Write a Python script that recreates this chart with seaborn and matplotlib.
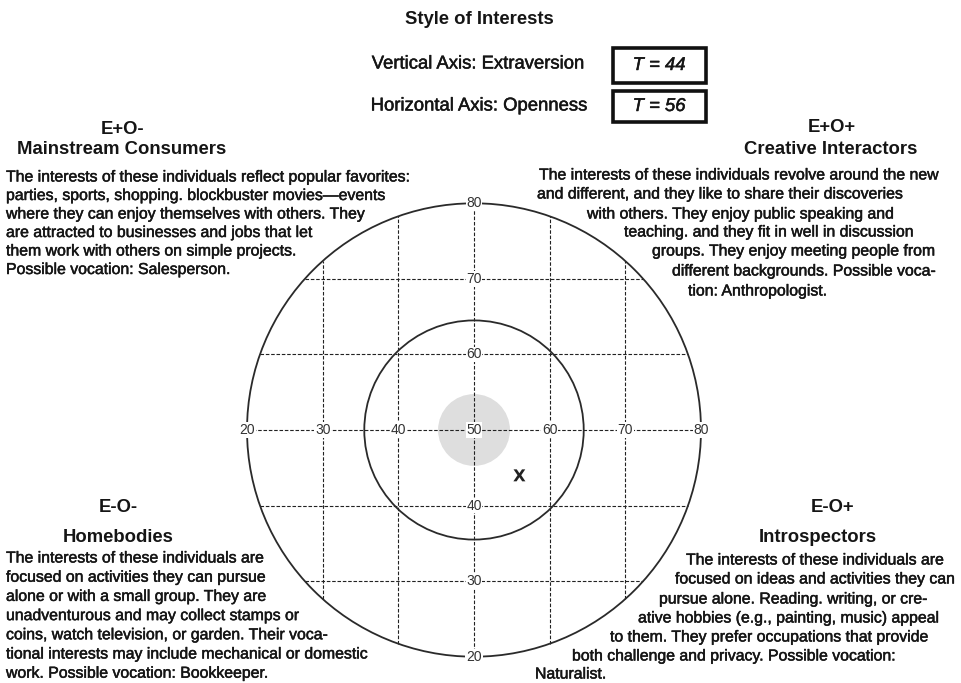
import numpy as np
import pandas as pd
import seaborn as sns
import matplotlib
matplotlib.use("Agg")
import matplotlib.pyplot as plt
import matplotlib.patheffects as pe
from matplotlib.patches import Circle, Rectangle

# ---------------- data ----------------
openness_T = [56]          # horizontal axis score
extraversion_T = [44]      # vertical axis score
axis_ticks = [20, 30, 40, 50, 60, 70, 80]
grid_values = [30, 40, 60, 70]
outer_radius = [30]
inner_radius = [14.5]
center_radius = [4.75]

title = "Style of Interests"
vert_label = "Vertical Axis: Extraversion"
horiz_label = "Horizontal Axis: Openness"
vert_box = "T = 44"
horiz_box = "T = 56"

q_codes = ["E+O-", "E+O+", "E-O-", "E-O+"]
q_names = ["Mainstream Consumers", "Creative Interactors", "Homebodies", "Introspectors"]
q_text_tl = [
    "The interests of these individuals reflect popular favorites:",
    "parties, sports, shopping. blockbuster movies\u2014events",
    "where they can enjoy themselves with others. They",
    "are attracted to businesses and jobs that let",
    "them work with others on simple projects.",
    "Possible vocation: Salesperson.",
]
q_text_tr = [
    "The interests of these individuals revolve around the new",
    "and different, and they like to share their discoveries",
    "with others. They enjoy public speaking and",
    "teaching. and they fit in well in discussion",
    "groups. They enjoy meeting people from",
    "different backgrounds. Possible voca-",
    "tion: Anthropologist.",
]
q_text_bl = [
    "The interests of these individuals are",
    "focused on activities they can pursue",
    "alone or with a small group. They are",
    "unadventurous and may collect stamps or",
    "coins, watch television, or garden. Their voca-",
    "tional interests may include mechanical or domestic",
    "work. Possible vocation: Bookkeeper.",
]
q_text_br = [
    "The interests of these individuals are",
    "focused on ideas and activities they can",
    "pursue alone. Reading. writing, or cre-",
    "ative hobbies (e.g., painting, music) appeal",
    "to them. They prefer occupations that provide",
    "both challenge and privacy. Possible vocation:",
    "Naturalist.",
]

# ---------------- style ----------------
sns.set_theme(style="white")
plt.rcParams["font.family"] = ["Liberation Sans", "DejaVu Sans"]

W, H = 961, 683
fig = plt.figure(figsize=(W / 100, H / 100), dpi=100)
fig.patch.set_facecolor("white")

def fx(x):
    return x / W

def fy(y):
    return 1 - y / H

TXT = "#151515"
BODY = 11.4
HEAD = 13.3
thick = [pe.withStroke(linewidth=0.35, foreground=TXT)]

# ---------------- chart axes ----------------
left_px, right_px = 247, 701
top_px, bot_px = 203.3, 656.7
ax = fig.add_axes([fx(left_px), fy(bot_px), (right_px - left_px) / W, (bot_px - top_px) / H])
ax.set_xlim(axis_ticks[0], axis_ticks[-1])
ax.set_ylim(axis_ticks[0], axis_ticks[-1])
ax.axis("off")

cx = cy = axis_ticks[3]
R = outer_radius[0]

ax.add_patch(Circle((cx, cy), center_radius[0], facecolor="#dedede", edgecolor="none", zorder=1))
ax.add_patch(Circle((cx, cy), R, facecolor="none", edgecolor="#2a2a2a", lw=1.3, zorder=3, clip_on=False))
ax.add_patch(Circle((cx, cy), inner_radius[0], facecolor="none", edgecolor="#2a2a2a", lw=1.3, zorder=3))

dash = (0, (3.2, 1.6))
for g in grid_values:
    h = np.sqrt(R ** 2 - (g - cy) ** 2)
    ax.plot([cx - h, cx + h], [g, g], color="#222222", lw=0.8, linestyle=dash, zorder=2, clip_on=False)
    ax.plot([g, g], [cy - h, cy + h], color="#222222", lw=0.8, linestyle=dash, zorder=2, clip_on=False)
ax.plot([axis_ticks[0], axis_ticks[-1]], [cy, cy], color="#222222", lw=0.8, linestyle=dash, zorder=2, clip_on=False)
ax.plot([cx, cx], [axis_ticks[0], axis_ticks[-1]], color="#222222", lw=0.8, linestyle=dash, zorder=2, clip_on=False)

bb = dict(facecolor="white", edgecolor="none", pad=0.5)
for t in axis_ticks:
    ax.text(t, cy, str(t), ha="center", va="center", fontsize=10, color="#333333",
            bbox=bb, zorder=4, clip_on=False)
for t in axis_ticks:
    if t == cy:
        continue
    ax.text(cx, t, str(t), ha="center", va="center", fontsize=10, color="#333333",
            bbox=bb, zorder=4, clip_on=False)

df = pd.DataFrame({"Openness": openness_T, "Extraversion": extraversion_T})
sns.scatterplot(data=df, x="Openness", y="Extraversion", marker="$\\mathbf{X}$", s=75,
                color="#222222", edgecolor="none", ax=ax, zorder=5, legend=False)

# ---------------- header ----------------
fig.text(fx(479), fy(19), title, ha="center", va="center", fontsize=HEAD, fontweight="bold", color=TXT)
fig.text(fx(478), fy(64), vert_label, ha="center", va="center", fontsize=HEAD, color=TXT, path_effects=thick)
fig.text(fx(479), fy(106), horiz_label, ha="center", va="center", fontsize=HEAD, color=TXT, path_effects=thick)
for (y0, y1, s) in [(48, 83, vert_box), (91, 122, horiz_box)]:
    fig.add_artist(Rectangle((fx(613), fy(y1)), (706 - 613) / W, (y1 - y0) / H,
                             transform=fig.transFigure, facecolor="none", edgecolor="#111111", lw=2.6))
    fig.text(fx(659), fy((y0 + y1) / 2), s, ha="center", va="center", fontsize=HEAD,
             style="italic", color=TXT, path_effects=thick)

# ---------------- quadrant headings ----------------
fig.text(fx(123), fy(129), q_codes[0], ha="center", va="center", fontsize=HEAD, fontweight="bold", color=TXT)
fig.text(fx(122), fy(150), q_names[0], ha="center", va="center", fontsize=HEAD, fontweight="bold", color=TXT)
fig.text(fx(832), fy(127), q_codes[1], ha="center", va="center", fontsize=HEAD, fontweight="bold", color=TXT)
fig.text(fx(831), fy(149), q_names[1], ha="center", va="center", fontsize=HEAD, fontweight="bold", color=TXT)
fig.text(fx(118), fy(508), q_codes[2], ha="center", va="center", fontsize=HEAD, fontweight="bold", color=TXT)
fig.text(fx(118), fy(537), q_names[2], ha="center", va="center", fontsize=HEAD, fontweight="bold", color=TXT)
fig.text(fx(833), fy(508), q_codes[3], ha="center", va="center", fontsize=HEAD, fontweight="bold", color=TXT)
fig.text(fx(818), fy(537), q_names[3], ha="center", va="center", fontsize=HEAD, fontweight="bold", color=TXT)

# ---------------- quadrant body text ----------------
def body(s, x, y):
    fig.text(fx(x), fy(y), s, ha="left", va="center", fontsize=BODY, color=TXT, path_effects=thick)

for i, s in enumerate(q_text_tl):
    body(s, 6, 177 + i * 18.5)
for i, s in enumerate(q_text_bl):
    body(s, 6, 558 + i * 19.2)

tr_x = [539, 537, 587, 624, 652, 672, 688]
tr_y = [175, 194, 214, 232, 251, 271, 291]
for s, x, y in zip(q_text_tr, tr_x, tr_y):
    body(s, x, y)

br_x = [686, 675, 659, 638, 610, 572, 535]
br_y = [560, 579, 599, 618, 637, 656, 674]
for s, x, y in zip(q_text_br, br_x, br_y):
    body(s, x, y)

fig.savefig("out.png", dpi=100, facecolor="white")
